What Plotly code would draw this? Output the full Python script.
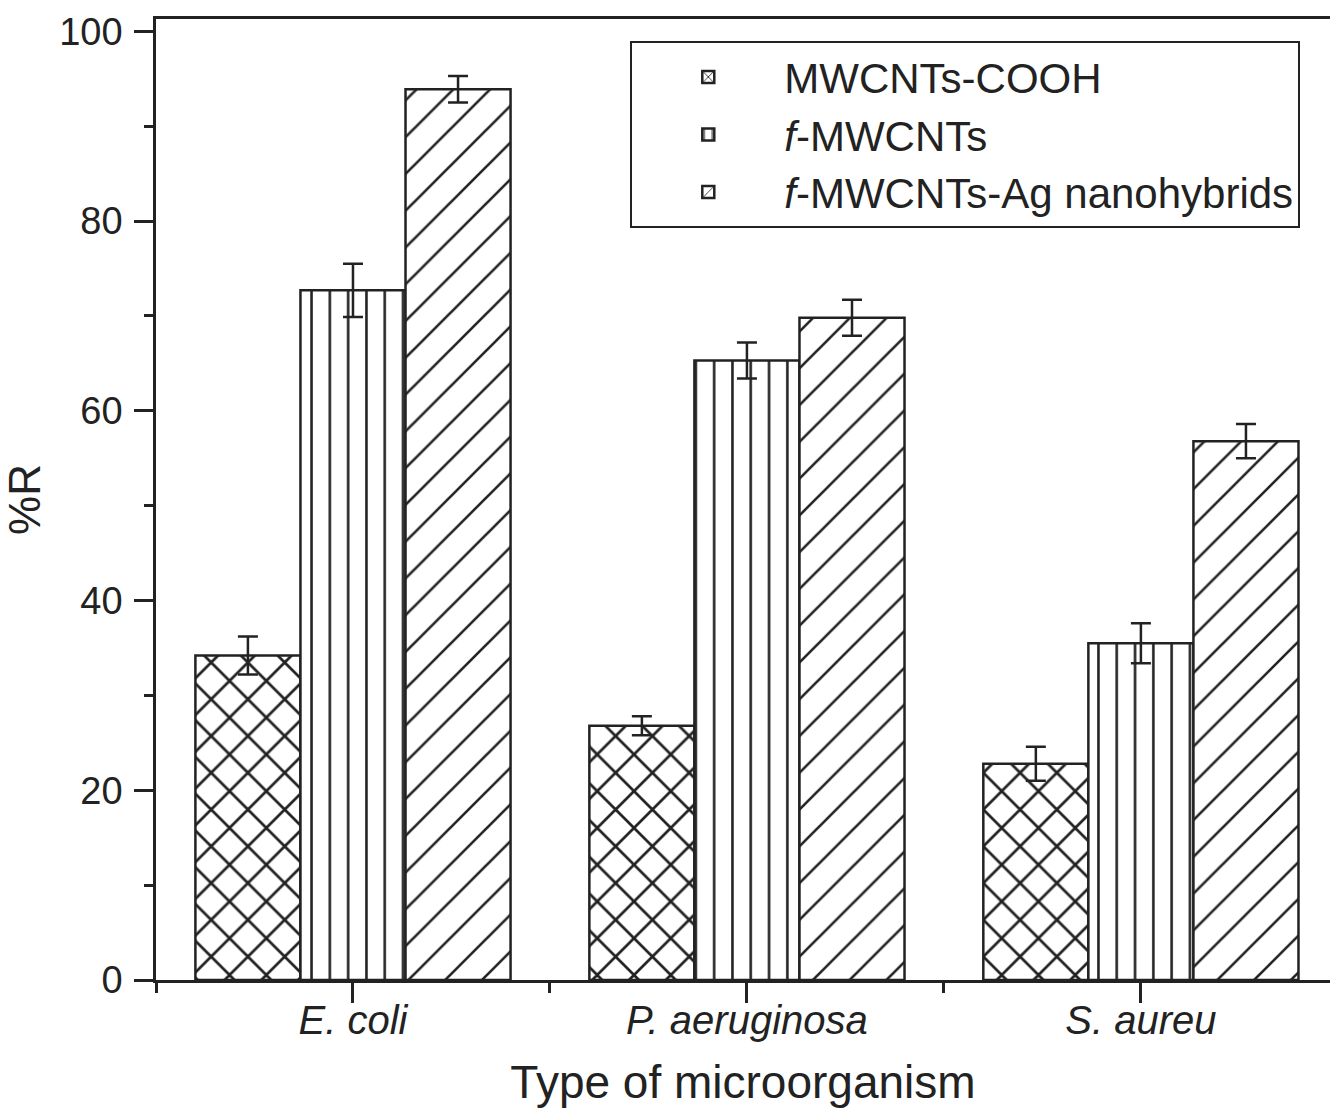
import plotly.graph_objects as go

categories = ["<i>E. coli</i>", "<i>P. aeruginosa</i>", "<i>S. aureu</i>"]
series_names = ["MWCNTs-COOH", "<i>f</i>-MWCNTs", "<i>f</i>-MWCNTs-Ag nanohybrids"]
cooh_vals = [34.2, 26.8, 22.8]
cooh_err = [2.0, 1.0, 1.8]
fmw_vals = [72.7, 65.3, 35.5]
fmw_err = [2.8, 1.9, 2.1]
ag_vals = [93.9, 69.8, 56.8]
ag_err = [1.4, 1.9, 1.8]
y_ticks = [0, 20, 40, 60, 80, 100]

INK = "#222222"
FONT = "Liberation Sans, Arial, sans-serif"

xpos = list(range(len(categories)))

patterns = [
    dict(shape="x", size=26, solidity=0.2, fgcolor=INK, fgopacity=1, bgcolor="white", fillmode="overlay"),
    dict(shape="|", size=18.3, solidity=0.14, fgcolor=INK, fgopacity=1, bgcolor="white", fillmode="overlay"),
    dict(shape="/", size=26, solidity=0.1, fgcolor=INK, fgopacity=1, bgcolor="white", fillmode="overlay"),
]

fig = go.Figure()
for name, vals, errs, pat in zip(series_names,
                                 [cooh_vals, fmw_vals, ag_vals],
                                 [cooh_err, fmw_err, ag_err],
                                 patterns):
    fig.add_trace(go.Bar(
        x=xpos, y=vals, name=name,
        marker=dict(color="white", line=dict(color=INK, width=2.5), pattern=pat),
        error_y=dict(type="data", array=errs, visible=True, color=INK, thickness=2.5, width=10),
    ))

fig.update_layout(
    width=1330, height=1108,
    margin=dict(l=156, r=0, t=19, b=128, autoexpand=False),
    paper_bgcolor="white", plot_bgcolor="white",
    barmode="group", bargap=0.2, bargroupgap=0,
    font=dict(family=FONT, color=INK, size=38),
    showlegend=True,
    legend=dict(
        x=0.404, y=0.977, xanchor="left", yanchor="top",
        bordercolor=INK, borderwidth=2, bgcolor="white",
        font=dict(size=42, family=FONT, color=INK),
        tracegroupgap=0, itemwidth=142,
    ),
    xaxis=dict(
        range=[-0.5, 2.48], automargin=False,
        tickmode="array", tickvals=xpos, ticktext=categories,
        ticks="outside", ticklen=20, tickwidth=2.5, tickcolor=INK,
        showline=True, linecolor=INK, linewidth=2.5, mirror=True,
        showgrid=False, zeroline=False,
        tickfont=dict(size=40),
        ticklabelstandoff=-17,
        minor=dict(tickmode="array", tickvals=[-0.5, 0.5, 1.5, 2.5],
                   ticks="outside", ticklen=10, tickwidth=2.5, tickcolor=INK, showgrid=False),
        title=dict(text="Type of microorganism", font=dict(size=46), standoff=26),
    ),
    yaxis=dict(
        range=[0, 101.3], automargin=False,
        tickmode="array", tickvals=y_ticks,
        ticks="outside", ticklen=19, tickwidth=2.5, tickcolor=INK,
        showline=True, linecolor=INK, linewidth=2.5, mirror=False,
        showgrid=False, zeroline=False,
        tickfont=dict(size=38),
        ticklabelstandoff=4,
        minor=dict(tickmode="linear", tick0=0, dtick=10,
                   ticks="outside", ticklen=9, tickwidth=2.5, tickcolor=INK, showgrid=False),
        title=dict(text="%R", font=dict(size=44), standoff=14),
    ),
)

fig.write_html("out.html")
